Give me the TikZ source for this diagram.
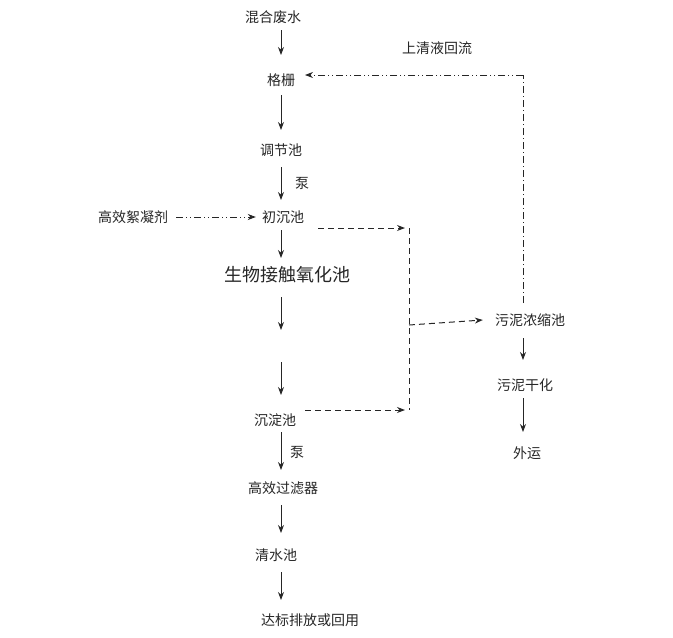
\documentclass[tikz,border=0pt]{standalone}
\usepackage{fontspec}
\newfontfamily\cjk{Noto Sans CJK SC}
\usetikzlibrary{arrows.meta}
\begin{document}
\begin{tikzpicture}[x=1pt,y=-1pt,
  lbl/.style={font=\cjk\fontsize{14}{14}\selectfont, inner sep=0pt, text=black!85},
  big/.style={font=\cjk\fontsize{18}{18}\selectfont, inner sep=0pt, text=black!85},
  arr/.style={-{Stealth[length=8pt,width=6pt]}, line width=1pt, black!85},
  dsh/.style={dashed, dash pattern=on 6pt off 4pt, line width=1pt, black!85},
  dshar/.style={dsh, -{Stealth[length=8pt,width=6pt]}},
  ddot/.style={line width=0.8pt, black!85, dash pattern=on 7pt off 3pt on 1pt off 3pt on 1pt off 3pt, -{Stealth[length=8pt,width=6pt]}},
  ddot2/.style={line width=0.8pt, black!85, dash pattern=on 7pt off 3pt on 1pt off 3pt}]
\useasboundingbox (0,0) rectangle (673,638);
\node[lbl] (mix) at (273,17) {混合废水};
\node[lbl] (gs) at (281,80) {格栅};
\node[lbl] (tj) at (281,150) {调节池};
\node[lbl] (b1) at (302,183) {泵};
\node[lbl] (cc) at (283,217) {初沉池};
\node[lbl] (fl) at (133,217) {高效絮凝剂};
\node[big] (bio) at (287,275) {生物接触氧化池};
\node[lbl] (cd) at (275,420) {沉淀池};
\node[lbl] (b2) at (297,452) {泵};
\node[lbl] (gl) at (283,488) {高效过滤器};
\node[lbl] (qs) at (276,555) {清水池};
\node[lbl] (db) at (310,620) {达标排放或回用};
\node[lbl] (ws) at (530,320) {污泥浓缩池};
\node[lbl] (gh) at (525,385) {污泥干化};
\node[lbl] (wy) at (527,453) {外运};
\node[lbl] (sq) at (437,48) {上清液回流};
\coordinate (g1) at (281,330);
\coordinate (g2) at (281,362);
\coordinate (ja) at (405,228);
\coordinate (jb) at (405,410);
\coordinate (jc) at (409,325);
\coordinate (jt) at (409,228);
\coordinate (jd) at (409,410);
\coordinate (fa) at (523,75);
\coordinate (fb) at (523,303);
\coordinate (fc) at (305,75);
% main column
\draw[arr] (281,30) -- (281,55);
\draw[arr] (281,95) -- (281,130);
\draw[arr] (281,167) -- (281,200);
\draw[arr] (281,230) -- (281,258);
\draw[arr] (281,297) -- (g1);
\draw[arr] (g2) -- (281,395);
\draw[arr] (281,432) -- (281,470);
\draw[arr] (281,505) -- (281,533);
\draw[arr] (281,572) -- (281,600);
\draw[arr] (523,338) -- (523,360);
\draw[arr] (523,398) -- (523,432);
% flocculant
\draw[ddot] (fl.east) ++(8,0) -- ([xshift=-6pt]cc.west);
% sludge dashed
\draw[dshar] (318,228) -- (ja);
\draw[dshar] (305,410) -- (jb);
\draw[dsh] (jt) -- (jd);
\draw[dshar] (jc) -- ([xshift=-12pt]ws.west);
% return
\draw[ddot2] (fb) -- (fa);
\draw[ddot] (fa) -- (fc);
\end{tikzpicture}
\end{document}
